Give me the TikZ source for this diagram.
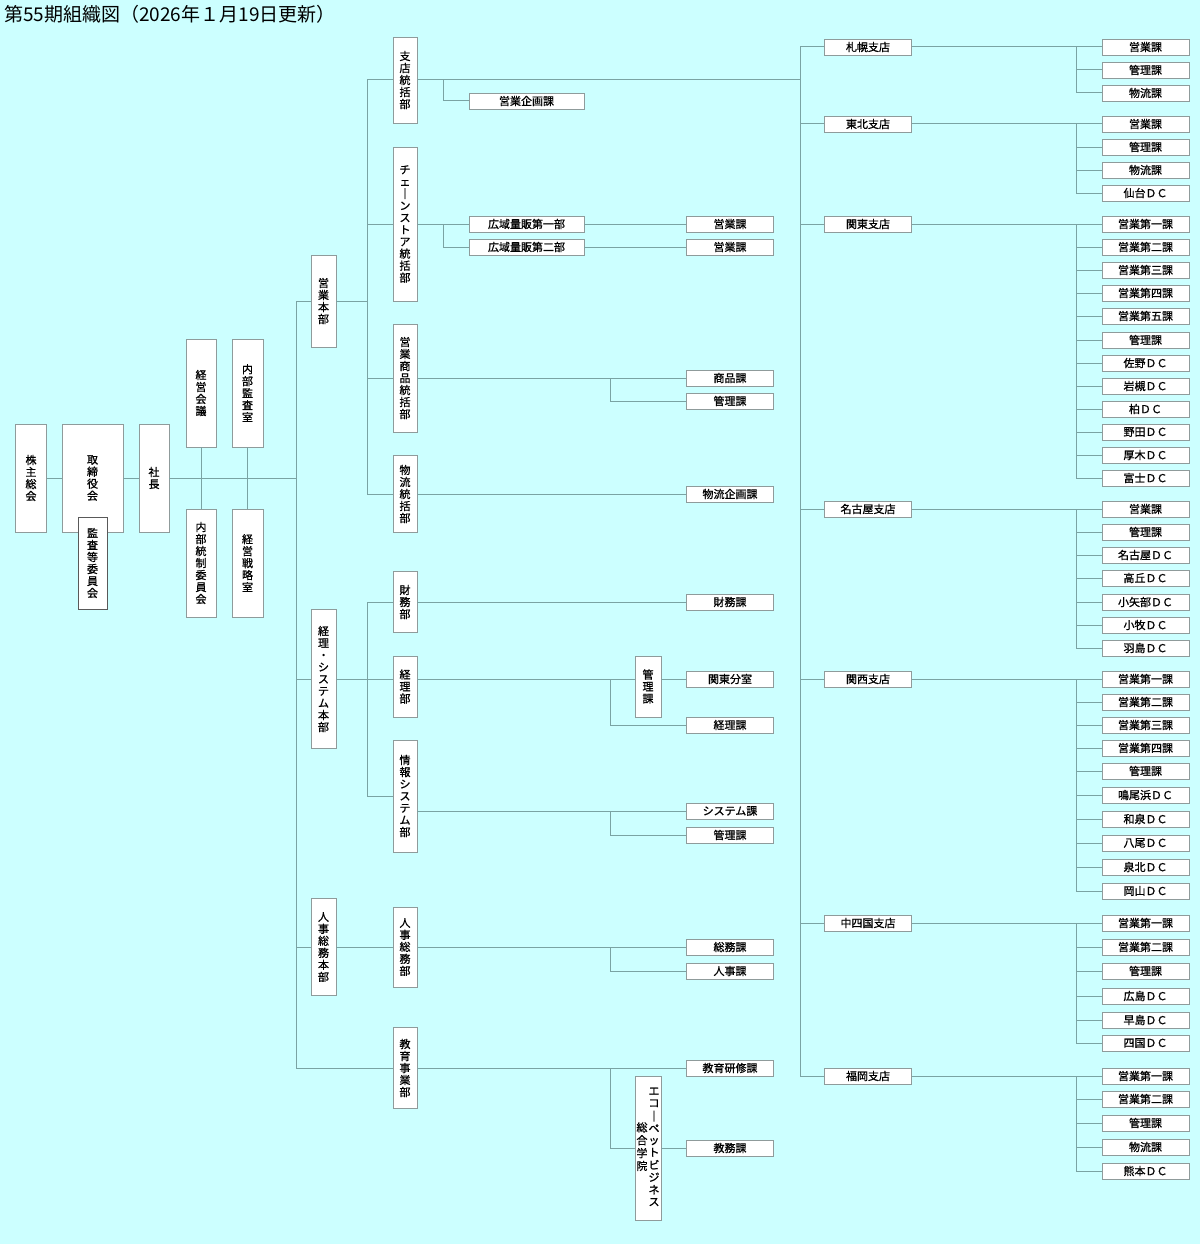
\documentclass[tikz,border=0pt]{standalone}
\usepackage{fontspec}
\setmainfont{Noto Sans CJK JP}
\newfontfamily\boxfont{Noto Sans CJK JP}[FakeBold=1]
\usetikzlibrary{calc}
\definecolor{sky}{HTML}{CCFFFF}
\definecolor{wire}{HTML}{7AA3A3}
\definecolor{frame}{HTML}{8F9B9B}
\tikzset{
  tall-box/.style={draw=frame, fill=white, line width=0.8pt, inner sep=0pt, align=center, font=\boxfont\fontsize{11}{12}\selectfont},
  wide-box/.style={tall-box, minimum width=87, minimum height=16},
  link/.style={draw=wire, line width=1pt}
}
\begin{document}
\begin{tikzpicture}[x=1pt, y=-1pt]
% Background
\fill[sky] (0,0) rectangle (1200,1244);
\useasboundingbox (0,0) rectangle (1200,1244);
\node[anchor=base west, inner sep=0pt, font=\fontsize{19}{22}\selectfont] (title) at (4,22) {第55期組織図（2026年１月19日更新）};
% Coordinates
\coordinate (main-bus) at (296,0);
\coordinate (sales-bus) at (367,0);
\coordinate (div-split) at (443,0);
\coordinate (sec-split) at (610,0);
\coordinate (shop-bus) at (800,0);
\coordinate (shop-split) at (1076,0);
% Top management
\node[tall-box, minimum width=31, minimum height=108] (shareholders) at (31,478) {株\\主\\総\\会};
\node[tall-box, minimum width=61, minimum height=108] (board) at (92.5,478) {取\\締\\役\\会};
\node[tall-box, draw=black!65, minimum width=29, minimum height=92] (audit-committee) at (92.5,563) {監\\査\\等\\委\\員\\会};
\node[tall-box, minimum width=30, minimum height=108] (president) at (154,478) {社\\長};
\node[tall-box, minimum width=30, minimum height=108] (mgmt-meeting) at (201,393) {経\\営\\会\\議};
\node[tall-box, minimum width=31, minimum height=108] (internal-audit) at (247.5,393) {内\\部\\監\\査\\室};
\node[tall-box, minimum width=30, minimum height=108] (internal-control) at (201,563) {内\\部\\統\\制\\委\\員\\会};
\node[tall-box, minimum width=31, minimum height=108] (strategy-office) at (247.5,563) {経\\営\\戦\\略\\室};
\draw[link] (shareholders.east) -- (board.west);
\draw[link] (board.east) -- (president.west);
\draw[link] (president.east) -- (main-bus |- president.east);
\draw[link] (mgmt-meeting.south) -- (internal-control.north);
\draw[link] (internal-audit.south) -- (strategy-office.north);
% Headquarters
\node[tall-box, minimum width=25, minimum height=92] (sales-hq) at (323.5,301) {営\\業\\本\\部};
\node[tall-box, minimum width=25, minimum height=139] (finance-hq) at (323.5,679) {経\\理\\・\\シ\\ス\\テ\\ム\\本\\部};
\node[tall-box, minimum width=25, minimum height=97] (hr-hq) at (323.5,947) {人\\事\\総\\務\\本\\部};
% Divisions
\node[tall-box, minimum width=24, minimum height=86] (branch-div) at (405,80) {支\\店\\統\\括\\部};
\node[tall-box, minimum width=24, minimum height=154] (chain-div) at (405,224) {チ\\ェ\\｜\\ン\\ス\\ト\\ア\\統\\括\\部};
\node[tall-box, minimum width=24, minimum height=108] (merch-div) at (405,378) {営\\業\\商\\品\\統\\括\\部};
\node[tall-box, minimum width=24, minimum height=77] (logi-div) at (405,494) {物\\流\\統\\括\\部};
\node[tall-box, minimum width=24, minimum height=61] (finance-div) at (405,602) {財\\務\\部};
\node[tall-box, minimum width=24, minimum height=61] (accounting-div) at (405,686.5) {経\\理\\部};
\node[tall-box, minimum width=24, minimum height=112] (it-div) at (405,796) {情\\報\\シ\\ス\\テ\\ム\\部};
\node[tall-box, minimum width=24, minimum height=80] (hr-div) at (405,947) {人\\事\\総\\務\\部};
\node[tall-box, minimum width=24, minimum height=81] (edu-div) at (405,1068) {教\\育\\事\\業\\部};
\draw[link] (main-bus |- sales-hq.west) -- (sales-hq.west) (main-bus |- sales-hq.west) |- (edu-div.west);
\draw[link] (main-bus |- finance-hq.west) -- (finance-hq.west);
\draw[link] (main-bus |- hr-hq.west) -- (hr-hq.west);
\draw[link] (sales-hq.east) -- (sales-bus |- sales-hq.east);
\draw[link] (sales-bus |- branch-div.west) -- (branch-div.west) (sales-bus |- branch-div.west) |- (logi-div.west);
\draw[link] (sales-bus |- chain-div.west) -- (chain-div.west);
\draw[link] (sales-bus |- merch-div.west) -- (merch-div.west);
\draw[link] (finance-hq.east) -- (accounting-div.west |- finance-hq.east);
\draw[link] (sales-bus |- finance-div.west) -- (finance-div.west) (sales-bus |- finance-div.west) |- (it-div.west);
\draw[link] (hr-hq.east) -- (hr-div.west);
% Sections under the divisions
\node[tall-box, minimum width=115, minimum height=16] (sales-planning) at (526.5,101) {営業企画課};
\node[tall-box, minimum width=115, minimum height=16] (wide-area-1) at (526.5,224) {広域量販第一部};
\node[tall-box, minimum width=115, minimum height=16] (wide-area-2) at (526.5,247) {広域量販第二部};
\node[wide-box] (chain-sales-1) at (730,224) {営業課};
\node[wide-box] (chain-sales-2) at (730,247) {営業課};
\node[wide-box] (merch-sec) at (730,378) {商品課};
\node[wide-box] (merch-admin) at (730,401) {管理課};
\node[wide-box] (logi-planning) at (730,494) {物流企画課};
\node[wide-box] (finance-sec) at (730,602) {財務課};
\node[tall-box, minimum width=26, minimum height=61] (accounting-admin) at (648,686.5) {管\\理\\課};
\node[wide-box] (kanto-annex) at (730,679) {関東分室};
\node[wide-box] (accounting-sec) at (730,725) {経理課};
\node[wide-box] (system-sec) at (730,811) {システム課};
\node[wide-box] (it-admin) at (730,835) {管理課};
\node[wide-box] (general-sec) at (730,947) {総務課};
\node[wide-box] (personnel-sec) at (730,971) {人事課};
\node[wide-box] (training-sec) at (730,1068) {教育研修課};
\node[tall-box, minimum width=26, minimum height=144] (academy) at (648,1148) {\begin{tabular}{@{}c@{\hspace{1pt}}c@{}}\begin{tabular}{@{}c@{}}総\\合\\学\\院\end{tabular}&\begin{tabular}{@{}c@{}}エ\\コ\\｜\\ペ\\ッ\\ト\\ビ\\ジ\\ネ\\ス\end{tabular}\end{tabular}};
\node[wide-box] (academic-sec) at (730,1148) {教務課};
\draw[link] (branch-div.east) -- (shop-bus |- branch-div.east) (div-split |- branch-div.east) |- (sales-planning.west);
\draw[link] (chain-div.east) -- (wide-area-1.west) (div-split |- chain-div.east) |- (wide-area-2.west);
\draw[link] (wide-area-1.east) -- (chain-sales-1.west);
\draw[link] (wide-area-2.east) -- (chain-sales-2.west);
\draw[link] (merch-div.east) -- (merch-sec.west) (sec-split |- merch-sec.west) |- (merch-admin.west);
\draw[link] (logi-div.east) -- (logi-planning.west);
\draw[link] (finance-div.east) -- (finance-sec.west);
\draw[link] (accounting-div.east |- kanto-annex.west) -- (accounting-admin.west |- kanto-annex.west) (sec-split |- kanto-annex.west) |- (accounting-sec.west);
\draw[link] (accounting-admin.east |- kanto-annex.west) -- (kanto-annex.west);
\draw[link] (it-div.east |- system-sec.west) -- (system-sec.west) (sec-split |- system-sec.west) |- (it-admin.west);
\draw[link] (hr-div.east) -- (general-sec.west) (sec-split |- general-sec.west) |- (personnel-sec.west);
\draw[link] (edu-div.east) -- (training-sec.west) (sec-split |- training-sec.west) |- (academy.west);
\draw[link] (academy.east) -- (academic-sec.west);
% Branches
\node[wide-box] (sapporo) at (868,47) {札幌支店};
\node[wide-box] (tohoku) at (868,124) {東北支店};
\node[wide-box] (kanto) at (868,224) {関東支店};
\node[wide-box] (nagoya) at (868,509) {名古屋支店};
\node[wide-box] (kansai) at (868,679) {関西支店};
\node[wide-box] (chushikoku) at (868,923) {中四国支店};
\node[wide-box] (fukuoka) at (868,1076) {福岡支店};
\draw[link] (shop-bus |- sapporo.west) -- (sapporo.west) (shop-bus |- sapporo.west) |- (fukuoka.west);
\draw[link] (shop-bus |- tohoku.west) -- (tohoku.west);
\draw[link] (shop-bus |- kanto.west) -- (kanto.west);
\draw[link] (shop-bus |- nagoya.west) -- (nagoya.west);
\draw[link] (shop-bus |- kansai.west) -- (kansai.west);
\draw[link] (shop-bus |- chushikoku.west) -- (chushikoku.west);
% Sapporo
\node[wide-box] (sapporo-1) at (1145.5,47) {営業課};
\node[wide-box] (sapporo-2) at (1145.5,70) {管理課};
\node[wide-box] (sapporo-3) at (1145.5,93) {物流課};
\draw[link] (sapporo.east) -- (sapporo-1.west) (shop-split |- sapporo-1.west) |- (sapporo-3.west) (shop-split |- sapporo-2.west) -- (sapporo-2.west);
% Tohoku
\node[wide-box] (tohoku-1) at (1145.5,124) {営業課};
\node[wide-box] (tohoku-2) at (1145.5,147) {管理課};
\node[wide-box] (tohoku-3) at (1145.5,170) {物流課};
\node[wide-box] (tohoku-4) at (1145.5,193) {仙台ＤＣ};
\draw[link] (tohoku.east) -- (tohoku-1.west) (shop-split |- tohoku-1.west) |- (tohoku-4.west) (shop-split |- tohoku-2.west) -- (tohoku-2.west) (shop-split |- tohoku-3.west) -- (tohoku-3.west);
% Kanto
\node[wide-box] (kanto-1) at (1145.5,224) {営業第一課};
\node[wide-box] (kanto-2) at (1145.5,247) {営業第二課};
\node[wide-box] (kanto-3) at (1145.5,270) {営業第三課};
\node[wide-box] (kanto-4) at (1145.5,293) {営業第四課};
\node[wide-box] (kanto-5) at (1145.5,316) {営業第五課};
\node[wide-box] (kanto-6) at (1145.5,340) {管理課};
\node[wide-box] (kanto-7) at (1145.5,363) {佐野ＤＣ};
\node[wide-box] (kanto-8) at (1145.5,386) {岩槻ＤＣ};
\node[wide-box] (kanto-9) at (1145.5,409) {柏ＤＣ};
\node[wide-box] (kanto-10) at (1145.5,432) {野田ＤＣ};
\node[wide-box] (kanto-11) at (1145.5,455) {厚木ＤＣ};
\node[wide-box] (kanto-12) at (1145.5,478) {富士ＤＣ};
\draw[link] (kanto.east) -- (kanto-1.west) (shop-split |- kanto-1.west) |- (kanto-12.west) (shop-split |- kanto-2.west) -- (kanto-2.west) (shop-split |- kanto-3.west) -- (kanto-3.west) (shop-split |- kanto-4.west) -- (kanto-4.west) (shop-split |- kanto-5.west) -- (kanto-5.west) (shop-split |- kanto-6.west) -- (kanto-6.west) (shop-split |- kanto-7.west) -- (kanto-7.west) (shop-split |- kanto-8.west) -- (kanto-8.west) (shop-split |- kanto-9.west) -- (kanto-9.west) (shop-split |- kanto-10.west) -- (kanto-10.west) (shop-split |- kanto-11.west) -- (kanto-11.west);
% Nagoya
\node[wide-box] (nagoya-1) at (1145.5,509) {営業課};
\node[wide-box] (nagoya-2) at (1145.5,532) {管理課};
\node[wide-box] (nagoya-3) at (1145.5,555) {名古屋ＤＣ};
\node[wide-box] (nagoya-4) at (1145.5,578) {高丘ＤＣ};
\node[wide-box] (nagoya-5) at (1145.5,602) {小矢部ＤＣ};
\node[wide-box] (nagoya-6) at (1145.5,625) {小牧ＤＣ};
\node[wide-box] (nagoya-7) at (1145.5,648) {羽島ＤＣ};
\draw[link] (nagoya.east) -- (nagoya-1.west) (shop-split |- nagoya-1.west) |- (nagoya-7.west) (shop-split |- nagoya-2.west) -- (nagoya-2.west) (shop-split |- nagoya-3.west) -- (nagoya-3.west) (shop-split |- nagoya-4.west) -- (nagoya-4.west) (shop-split |- nagoya-5.west) -- (nagoya-5.west) (shop-split |- nagoya-6.west) -- (nagoya-6.west);
% Kansai
\node[wide-box] (kansai-1) at (1145.5,679) {営業第一課};
\node[wide-box] (kansai-2) at (1145.5,702) {営業第二課};
\node[wide-box] (kansai-3) at (1145.5,725) {営業第三課};
\node[wide-box] (kansai-4) at (1145.5,748) {営業第四課};
\node[wide-box] (kansai-5) at (1145.5,771) {管理課};
\node[wide-box] (kansai-6) at (1145.5,795) {鳴尾浜ＤＣ};
\node[wide-box] (kansai-7) at (1145.5,819) {和泉ＤＣ};
\node[wide-box] (kansai-8) at (1145.5,843) {八尾ＤＣ};
\node[wide-box] (kansai-9) at (1145.5,867) {泉北ＤＣ};
\node[wide-box] (kansai-10) at (1145.5,891) {岡山ＤＣ};
\draw[link] (kansai.east) -- (kansai-1.west) (shop-split |- kansai-1.west) |- (kansai-10.west) (shop-split |- kansai-2.west) -- (kansai-2.west) (shop-split |- kansai-3.west) -- (kansai-3.west) (shop-split |- kansai-4.west) -- (kansai-4.west) (shop-split |- kansai-5.west) -- (kansai-5.west) (shop-split |- kansai-6.west) -- (kansai-6.west) (shop-split |- kansai-7.west) -- (kansai-7.west) (shop-split |- kansai-8.west) -- (kansai-8.west) (shop-split |- kansai-9.west) -- (kansai-9.west);
% Chushikoku
\node[wide-box] (chushikoku-1) at (1145.5,923) {営業第一課};
\node[wide-box] (chushikoku-2) at (1145.5,947) {営業第二課};
\node[wide-box] (chushikoku-3) at (1145.5,971) {管理課};
\node[wide-box] (chushikoku-4) at (1145.5,996) {広島ＤＣ};
\node[wide-box] (chushikoku-5) at (1145.5,1020) {早島ＤＣ};
\node[wide-box] (chushikoku-6) at (1145.5,1043) {四国ＤＣ};
\draw[link] (chushikoku.east) -- (chushikoku-1.west) (shop-split |- chushikoku-1.west) |- (chushikoku-6.west) (shop-split |- chushikoku-2.west) -- (chushikoku-2.west) (shop-split |- chushikoku-3.west) -- (chushikoku-3.west) (shop-split |- chushikoku-4.west) -- (chushikoku-4.west) (shop-split |- chushikoku-5.west) -- (chushikoku-5.west);
% Fukuoka
\node[wide-box] (fukuoka-1) at (1145.5,1076) {営業第一課};
\node[wide-box] (fukuoka-2) at (1145.5,1099) {営業第二課};
\node[wide-box] (fukuoka-3) at (1145.5,1123) {管理課};
\node[wide-box] (fukuoka-4) at (1145.5,1147) {物流課};
\node[wide-box] (fukuoka-5) at (1145.5,1171) {熊本ＤＣ};
\draw[link] (fukuoka.east) -- (fukuoka-1.west) (shop-split |- fukuoka-1.west) |- (fukuoka-5.west) (shop-split |- fukuoka-2.west) -- (fukuoka-2.west) (shop-split |- fukuoka-3.west) -- (fukuoka-3.west) (shop-split |- fukuoka-4.west) -- (fukuoka-4.west);
\end{tikzpicture}
\end{document}
